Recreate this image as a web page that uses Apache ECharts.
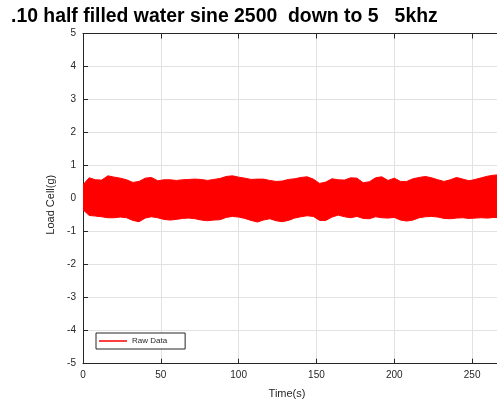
<!DOCTYPE html>
<html>
<head>
<meta charset="utf-8">
<script src="https://cdn.jsdelivr.net/npm/echarts@6/dist/echarts.min.js"></script>
<style>
  html, body { margin: 0; padding: 0; background: #ffffff; }
  #chart { width: 497px; height: 404px; }
</style>
</head>
<body>
<div id="chart"></div>
<script>
// Load cell recording: envelope of the 5 kHz vibration band, sampled every 4 s
const titleText = '.10 half filled water sine 2500  down to 5   5khz';
const xAxisTitle = 'Time(s)';
const yAxisTitle = 'Load Cell(g)';
const seriesName = 'Raw Data';

const timeSec = [
  0, 4, 8, 12, 16, 20, 24, 28, 32, 36, 40, 44, 48, 52, 56, 60, 64, 68,
  72, 76, 80, 84, 88, 92, 96, 100, 104, 108, 112, 116, 120, 124, 128, 132,
  136, 140, 144, 148, 152, 156, 160, 164, 168, 172, 176, 180, 184, 188, 192,
  196, 200, 204, 208, 212, 216, 220, 224, 228, 232, 236, 240, 244, 248, 252,
  256, 260, 264, 268
];

// upper edge of the signal band (g)
const upperEnv = [
  0.42, 0.63, 0.57, 0.56, 0.69, 0.65, 0.62, 0.57, 0.49, 0.52, 0.62, 0.64, 0.54, 0.57, 0.57, 0.55, 0.57, 0.58,
  0.59, 0.58, 0.55, 0.58, 0.61, 0.67, 0.69, 0.65, 0.62, 0.58, 0.59, 0.59, 0.55, 0.52, 0.53, 0.58,
  0.60, 0.64, 0.66, 0.59, 0.46, 0.50, 0.60, 0.57, 0.56, 0.63, 0.62, 0.48, 0.51, 0.63, 0.66,
  0.55, 0.62, 0.52, 0.52, 0.60, 0.64, 0.67, 0.63, 0.57, 0.52, 0.57, 0.64, 0.59, 0.54, 0.58,
  0.63, 0.68, 0.71, 0.72
];

// lower edge of the signal band (g)
const lowerEnv = [
  -0.34, -0.51, -0.53, -0.55, -0.58, -0.58, -0.56, -0.58, -0.66, -0.70, -0.59, -0.55, -0.58, -0.63, -0.65, -0.63, -0.60, -0.59,
  -0.61, -0.65, -0.67, -0.65, -0.64, -0.57, -0.54, -0.56, -0.60, -0.66, -0.71, -0.65, -0.61, -0.67, -0.70, -0.66,
  -0.59, -0.55, -0.52, -0.54, -0.66, -0.66, -0.56, -0.50, -0.55, -0.58, -0.54, -0.60, -0.61, -0.55, -0.58,
  -0.59, -0.57, -0.65, -0.68, -0.65, -0.58, -0.55, -0.54, -0.56, -0.60, -0.61, -0.59, -0.58, -0.60, -0.59,
  -0.58, -0.59, -0.57, -0.58
];

const xRange = { min: 0, max: 266, step: 50 };
const yRange = { min: -5, max: 5, step: 1 };

const bandRows = timeSec.map((t, i) => [t, lowerEnv[i], upperEnv[i]]);

const font = 'Liberation Sans, Arial, Helvetica, sans-serif';
const ink = '#262626';
const gridGray = '#e2e2e2';
const red = '#ff0000';

// one filled polygon: along the upper edge, back along the lower edge
function renderBand(params, api) {
  if (params.dataIndex !== 0) return null;
  const pts = [];
  for (let i = 0; i < bandRows.length; i++) {
    pts.push(api.coord([bandRows[i][0], bandRows[i][2]]));
  }
  for (let i = bandRows.length - 1; i >= 0; i--) {
    pts.push(api.coord([bandRows[i][0], bandRows[i][1]]));
  }
  const cs = params.coordSys;
  return {
    type: 'polygon',
    shape: { points: pts },
    style: { fill: red, stroke: red, lineWidth: 1 },
    clipPath: { type: 'rect', shape: { x: cs.x, y: cs.y, width: cs.width, height: cs.height } }
  };
}

const chart = echarts.init(document.getElementById('chart'), null, { renderer: 'canvas' });

chart.setOption({
  animation: false,
  backgroundColor: '#ffffff',
  grid: { left: 83, top: 33.5, bottom: 40.3, right: 0, containLabel: false },
  legend: {
    data: [seriesName],
    left: 96,
    top: 333,
    orient: 'horizontal',
    icon: 'rect',
    itemWidth: 28,
    itemHeight: 1.5,
    padding: [4, 18, 4, 3],
    borderColor: ink,
    borderWidth: 1,
    borderRadius: 0,
    backgroundColor: '#ffffff',
    textStyle: { fontFamily: font, fontSize: 8, color: ink }
  },
  xAxis: [
    {
      type: 'value', position: 'bottom',
      min: xRange.min, max: xRange.max, interval: xRange.step,
      axisLine: { show: true, onZero: false, lineStyle: { color: ink, width: 1 } },
      axisTick: { show: true, inside: true, length: 5, lineStyle: { color: ink } },
      axisLabel: { fontFamily: font, fontSize: 10, color: ink, margin: 7, showMaxLabel: false },
      splitLine: { show: true, lineStyle: { color: gridGray, width: 1 } }
    },
    {
      type: 'value', position: 'top',
      min: xRange.min, max: xRange.max, interval: xRange.step,
      axisLine: { show: true, onZero: false, lineStyle: { color: ink, width: 1 } },
      axisTick: { show: true, inside: true, length: 5, lineStyle: { color: ink } },
      axisLabel: { show: false },
      splitLine: { show: false }
    }
  ],
  yAxis: {
    type: 'value',
    min: yRange.min, max: yRange.max, interval: yRange.step,
    axisLine: { show: true, onZero: false, lineStyle: { color: ink, width: 1 } },
    axisTick: { show: true, inside: true, length: 5, lineStyle: { color: ink } },
    axisLabel: { fontFamily: font, fontSize: 10, color: ink, margin: 7 },
    splitLine: { show: true, lineStyle: { color: gridGray, width: 1 } }
  },
  graphic: [
    {
      type: 'text',
      x: 11, y: 16.5,
      style: {
        text: titleText, fontFamily: font, fontWeight: 'bold', fontSize: 19.4,
        fill: '#000000', align: 'left', verticalAlign: 'middle'
      }
    },
    {
      type: 'text',
      x: 287, y: 394,
      style: {
        text: xAxisTitle, fontFamily: font, fontSize: 11, fill: ink,
        align: 'center', verticalAlign: 'middle'
      }
    },
    {
      type: 'text',
      x: 50.7, y: 204.7,
      rotation: Math.PI / 2,
      style: {
        text: yAxisTitle, fontFamily: font, fontSize: 11, fill: ink,
        align: 'center', verticalAlign: 'middle'
      }
    }
  ],
  series: [
    {
      name: seriesName,
      type: 'custom',
      xAxisIndex: 0,
      data: bandRows,
      encode: { x: 0, y: [1, 2] },
      renderItem: renderBand,
      itemStyle: { color: red },
      silent: true
    }
  ]
});
</script>
</body>
</html>
